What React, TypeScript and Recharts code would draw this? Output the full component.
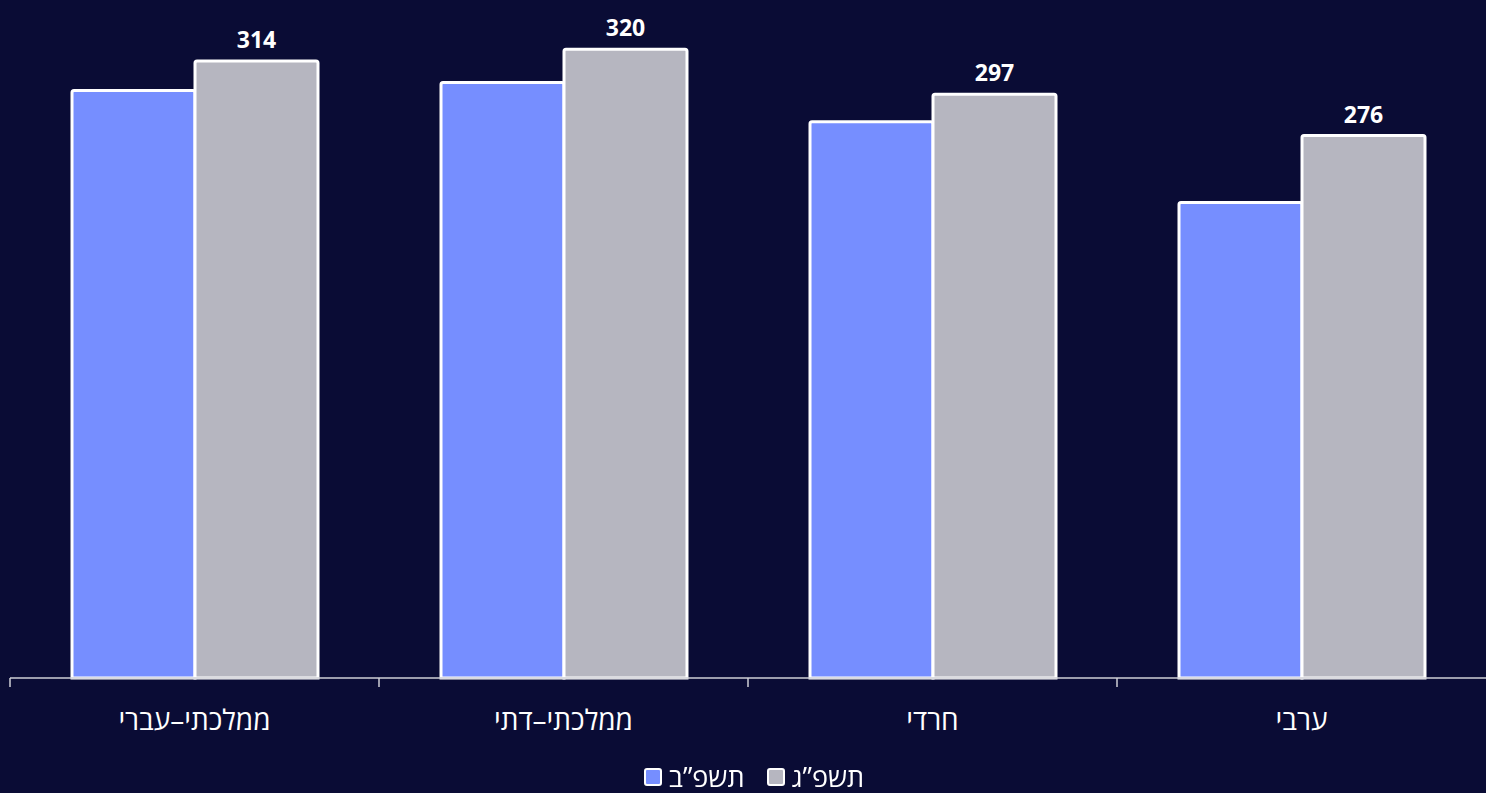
import React from 'react';
import { BarChart, Bar, XAxis, YAxis, Legend, LabelList } from 'recharts';

const categories = ['ממלכתי–עברי', 'ממלכתי–דתי', 'חרדי', 'ערבי'];
const prevYear = [299, 303, 283, 242];
const currYear = [314, 320, 297, 276];
const seriesNames = ['תשפ”ב', 'תשפ”ג'];

const BG = '#0a0c35';
const BLUE = '#768eff';
const GRAY = '#b6b6c0';
const AXIS = '#cfcfd6';
const FONT = '"Open Sans", "Noto Sans", sans-serif';

const data = categories.map((name, i) => ({
  name,
  prev: prevYear[i],
  curr: currYear[i],
}));

// tick at the left edge of each category band, label centred
const BoundaryTick = (props: any) => {
  const { x, y, payload, bandHalf } = props;
  return (
    <g>
      <line x1={x - bandHalf} x2={x - bandHalf} y1={y - 32} y2={y - 23} stroke={AXIS} strokeWidth={1.5} />
      <text x={x} y={y} dy="0.71em" textAnchor="middle" fill="#fff" fontSize={28} fontFamily={FONT}>
        {payload.value}
      </text>
    </g>
  );
};

const LegendContent = () => {
  const items = [
    { label: seriesNames[0], color: BLUE },
    { label: seriesNames[1], color: GRAY },
  ];
  return (
    <div style={{ display: 'flex', justifyContent: 'center', gap: 22, fontFamily: FONT, fontSize: 27, color: '#fff', paddingLeft: 12 }}>
      {items.map((it) => (
        <div key={it.label} style={{ display: 'flex', alignItems: 'center', gap: 7 }}>
          <span
            style={{
              display: 'inline-block',
              width: 14,
              height: 14,
              background: it.color,
              border: '2px solid #fff',
              borderRadius: 3,
            }}
          />
          <span>{it.label}</span>
        </div>
      ))}
    </div>
  );
};

const App = () => {
  return (
    <div style={{ position: 'fixed', top: 0, left: 0, width: 1486, height: 793, background: BG }}>
      <BarChart
        width={1486}
        height={793}
        data={data}
        margin={{ top: 0, right: 0, left: 10, bottom: 0 }}
        barCategoryGap={62}
        barGap={0}
      >
        <XAxis
          dataKey="name"
          height={80}
          stroke={AXIS}
          strokeWidth={1.5}
          tickLine={false}
          tickSize={0}
          tickMargin={32}
          tick={<BoundaryTick bandHalf={184.5} />}
          interval={0}
        />
        <YAxis hide domain={[0, 345]} />
        <Legend verticalAlign="bottom" height={35} content={<LegendContent />} />
        <Bar
          dataKey="prev"
          name={seriesNames[0]}
          fill={BLUE}
          stroke="#fff"
          strokeWidth={3}
          radius={[2, 2, 0, 0]}
          isAnimationActive={false}
        />
        <Bar
          dataKey="curr"
          name={seriesNames[1]}
          fill={GRAY}
          stroke="#fff"
          strokeWidth={3}
          radius={[2, 2, 0, 0]}
          isAnimationActive={false}
        >
          <LabelList
            dataKey="curr"
            position="top"
            offset={13}
            fill="#fff"
            style={{ fontSize: 23, fontWeight: 700, fontFamily: FONT }}
          />
        </Bar>
      </BarChart>
    </div>
  );
};

export default App;
